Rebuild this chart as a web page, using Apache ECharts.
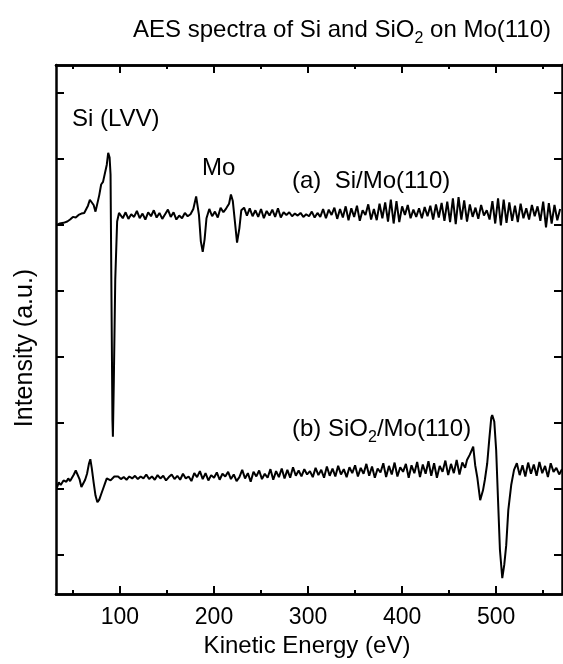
<!DOCTYPE html>
<html>
<head>
<meta charset="utf-8">
<script src="https://cdn.jsdelivr.net/npm/echarts@6/dist/echarts.min.js"></script>
<style>html,body{margin:0;padding:0;background:#fff;}#c{width:563px;height:664px;}</style>
</head>
<body>
<div id="c"></div>
<script>
// Kinetic energy range (eV) and tick values
const xMin = 32, xMax = 570;
const xMajorTicks = [100, 200, 300, 400, 500];
const xMinorTicks = [50, 150, 250, 350, 450, 550];
const yMin = -5.9, yMax = 74.2;
const yTicks = [0, 10, 20, 30, 40, 50, 60, 70];

// (a) Si/Mo(110): [kinetic energy eV, intensity a.u.]
const specA = [
[33,50.0],[36,50.2],[40,50.3],[44,50.5],[47,50.8],[50,51.2],[53,51.1],[56,51.5],[59,51.7],[62,51.8],
[64,52.1],[66,52.9],[68,53.8],[70,54.1],[72,53.0],[74,52.0],[76,52.3],[78,54.5],[80,56.1],[82,56.5],
[84,56.8],[86,59.1],[87.5,60.9],[89,60.2],[90,57.6],[91,38.6],[92,20.5],[92.5,17.9],[93.5,26.5],[95,41.7],
[97,50.5],[99,51.8],[101,52.0],[103,51.0],[106,51.9],[109,50.9],[112,51.6],[115,51.2],[118,52.1],[121,51.0],
[124,51.7],[127,50.8],[130,51.9],[133,51.3],[136,52.2],[139,51.1],[142,51.8],[145,50.9],[148,51.6],[151,52.3],
[154,51.2],[157,51.9],[160,50.8],[163,51.4],[166,51.0],[169,51.8],[172,51.3],[175,51.6],[178,52.4],[181,54.3],
[184,51.5],[186,47.5],[188,45.9],[190,47.8],[192,51.0],[195,52.4],[198,51.3],[201,52.0],[204,51.1],[207,52.6],
[210,51.9],[213,52.5],[216,53.2],[218,54.6],[220,53.6],[222,50.8],[224.5,47.3],[227,49.5],[229,52.2],[232,52.6],
[235,51.4],[238,52.5],[241,51.3],[244,52.2],[247,51.2],[250,52.4],[253,51.0],[256,52.1],[259,51.4],[262,52.3],
[265,51.2],[268,52.5],[271,51.1],[274,51.9],[277,51.5],[280,51.9],[283,51.3],[286,51.7],[289,51.4],[292,51.8],
[295,51.2],[298,51.6],[301,51.3],[304,52.0],[307,51.1],[310,51.8],[313,51.2],[316,52.4],[319,51.0],[322,52.3],
[325,51.5],[328,52.6],[331,50.9],[334,52.4],[337,51.1],[340,52.8],[343,50.7],[346,52.5],[349,51.2],[352,52.9],
[355,50.6],[358,52.2],[361,51.5],[364,53.1],[367,50.8],[370,52.4],[373,50.7],[376,53.2],[379,51.0],[382,53.4],
[385,50.5],[388,53.8],[391,50.2],[394,53.6],[397,50.4],[400,52.8],[403,51.5],[406,53.0],[409,51.0],[412,52.3],
[415,51.2],[418,52.5],[421,51.0],[424,52.7],[427,51.3],[430,52.9],[433,50.8],[436,53.1],[439,51.1],[442,53.3],
[445,50.6],[448,53.5],[451,50.4],[454,54.0],[457,50.1],[460,54.2],[463,50.8],[466,53.7],[469,50.5],[472,53.1],
[475,51.2],[478,52.6],[481,50.9],[484,53.0],[487,51.4],[490,52.2],[493,50.8],[496,53.6],[499,50.2],[502,54.0],
[505,49.9],[508,53.8],[511,50.3],[514,53.4],[517,50.6],[520,52.9],[523,50.4],[526,53.2],[529,51.0],[532,52.5],
[535,50.8],[538,53.0],[541,51.3],[544,52.8],[547,50.6],[550,53.5],[553,49.6],[556,53.3],[559,50.2],[562,53.0],
[565,50.7],[568,52.4]
];

// (b) SiO2/Mo(110): [kinetic energy eV, intensity a.u.]
const specB = [
[33,10.2],[35,11.0],[37,10.6],[40,11.3],[43,11.1],[45,11.6],[47,11.2],[49,11.5],[51,12.2],[53,12.8],
[55,13.1],[57,11.5],[59,10.3],[61,10.6],[63,11.4],[65,12.3],[67,13.8],[68.5,14.5],[70,13.2],[72,11.0],
[74,9.0],[76,8.0],[78,8.4],[80,9.2],[82,10.0],[84,10.8],[86,11.6],[88,11.9],[90,11.3],[92,11.5],
[94,11.9],[96,11.6],[98,11.9],[101,11.5],[104,11.8],[107,11.4],[110,11.9],[113,11.6],[116,12.0],[119,11.5],
[122,11.9],[125,11.6],[128,12.2],[131,11.5],[134,11.9],[137,11.4],[140,12.1],[143,11.6],[146,12.0],[149,11.3],
[152,11.8],[155,12.2],[158,11.5],[161,12.0],[164,11.4],[167,12.3],[170,11.6],[173,11.9],[176,11.2],[179,12.4],
[182,11.8],[185,12.7],[188,11.5],[191,12.4],[194,11.3],[197,12.1],[200,11.7],[203,12.5],[206,11.4],[209,12.3],
[212,11.9],[215,12.6],[218,11.5],[221,12.2],[224,11.2],[227,11.8],[230,12.9],[233,11.6],[236,12.4],[239,11.1],
[242,12.6],[245,11.9],[248,12.8],[251,11.5],[254,12.3],[257,11.7],[260,13.0],[263,11.4],[266,12.7],[269,11.8],
[272,13.1],[275,11.6],[278,12.9],[281,11.7],[284,13.3],[287,12.0],[290,12.8],[293,11.9],[296,13.0],[299,12.2],
[302,12.7],[305,11.8],[308,13.2],[311,12.1],[314,12.9],[317,11.7],[320,13.4],[323,12.0],[326,13.1],[329,11.9],
[332,13.5],[335,12.2],[338,13.0],[341,11.8],[344,13.3],[347,12.4],[350,13.6],[353,11.9],[356,13.2],[359,12.3],
[362,13.8],[365,12.0],[368,13.4],[371,11.7],[374,13.1],[377,12.5],[380,13.9],[383,11.8],[386,13.5],[389,12.2],
[392,14.0],[395,11.9],[398,13.3],[401,12.6],[404,13.8],[407,11.7],[410,13.6],[413,12.4],[416,14.1],[419,11.8],
[422,13.7],[425,12.3],[428,14.2],[431,12.0],[434,13.9],[437,11.7],[440,13.5],[443,12.6],[446,14.3],[449,12.1],
[452,13.8],[455,12.4],[458,14.4],[461,12.2],[464,14.0],[467,13.2],[469,14.4],[472,15.2],[475.6,16.4],[477.7,13.6],
[480,11.7],[483,8.3],[486,9.8],[488,11.4],[490.5,13.9],[492.6,17.4],[494.8,20.8],[495.8,21.2],[498,20.2],[500,15.9],
[502,8.3],[504,0.8],[506.5,-3.5],[508.6,-1.5],[510.7,1.5],[512.9,6.8],[516,10.6],[519,12.9],[522,13.9],[525,12.1],
[528,13.6],[531,11.9],[534,14.0],[537,12.3],[540,13.7],[543,12.0],[546,14.1],[549,12.4],[552,13.5],[555,11.8],
[558,13.9],[561,12.6],[564,13.2],[567,12.2],[570,13.0]
];

const FONT = '"Liberation Sans", Arial, sans-serif';
const chart = echarts.init(document.getElementById('c'), null, {renderer: 'canvas'});

function xAx(pos, ticks, len, labels) {
  return {
    type: 'value', position: pos, min: xMin, max: xMax, gridIndex: 0,
    axisLine: {show: true, onZero: false, lineStyle: {color: '#000', width: 2.5}},
    axisTick: {show: true, inside: true, length: len, customValues: ticks, lineStyle: {color: '#000', width: 2}},
    axisLabel: labels ? {show: true, customValues: xMajorTicks, color: '#000', fontSize: 23, fontFamily: FONT, margin: 12} : {show: false},
    splitLine: {show: false}
  };
}
function yAx(pos) {
  return {
    type: 'value', position: pos, min: yMin, max: yMax,
    axisLine: {show: true, onZero: false, lineStyle: {color: '#000', width: 2.5}},
    axisTick: {show: true, inside: true, length: 8, customValues: yTicks, lineStyle: {color: '#000', width: 2}},
    axisLabel: {show: false},
    splitLine: {show: false}
  };
}
const richSub = {
  n: {fontSize: 24, fontFamily: FONT, color: '#000', verticalAlign: 'top', lineHeight: 26},
  s: {fontSize: 16, fontFamily: FONT, color: '#000', verticalAlign: 'top', lineHeight: 16, padding: [13, 0, 0, 0]}
};

const option = {
  animation: false,
  backgroundColor: '#fff',
  grid: {left: 56, right: 1, top: 65, bottom: 70, containLabel: false, outerBoundsMode: 'none'},
  xAxis: [
    xAx('bottom', xMajorTicks, 8, true),
    xAx('bottom', xMinorTicks, 4, false),
    xAx('top', xMajorTicks, 8, false),
    xAx('top', xMinorTicks, 4, false)
  ],
  yAxis: [yAx('left'), yAx('right')],
  series: [
    {type: 'line', xAxisIndex: 0, yAxisIndex: 0, data: specA, showSymbol: false, smooth: false,
     lineStyle: {color: '#000', width: 2}},
    {type: 'line', xAxisIndex: 0, yAxisIndex: 0, data: specB, showSymbol: false, smooth: false,
     lineStyle: {color: '#000', width: 2}}
  ],
  graphic: [
    {type: 'text', right: 12, top: 18, style: {
      text: '{n|AES spectra of Si and SiO}{s|2}{n| on Mo(110)}', fill: '#000', rich: richSub
    }},
    {type: 'text', left: 72, top: 107, style: {text: 'Si (LVV)', fontSize: 24, fontFamily: FONT, fill: '#000'}},
    {type: 'text', left: 202, top: 156, style: {text: 'Mo', fontSize: 24, fontFamily: FONT, fill: '#000'}},
    {type: 'text', left: 292, top: 169, style: {text: '(a)  Si/Mo(110)', fontSize: 24, fontFamily: FONT, fill: '#000'}},
    {type: 'text', left: 292, top: 417, style: {
      text: '{n|(b) SiO}{s|2}{n|/Mo(110)}', fill: '#000', rich: richSub
    }},
    {type: 'text', x: 307, y: 646, style: {text: 'Kinetic Energy (eV)', fontSize: 24, fontFamily: FONT, fill: '#000', align: 'center', verticalAlign: 'middle'}},
    {type: 'text', x: 25, y: 348, rotation: Math.PI / 2, style: {text: 'Intensity (a.u.)', fontSize: 25, fontFamily: FONT, fill: '#000', align: 'center', verticalAlign: 'middle'}}
  ]
};
chart.setOption(option);
</script>
</body>
</html>
